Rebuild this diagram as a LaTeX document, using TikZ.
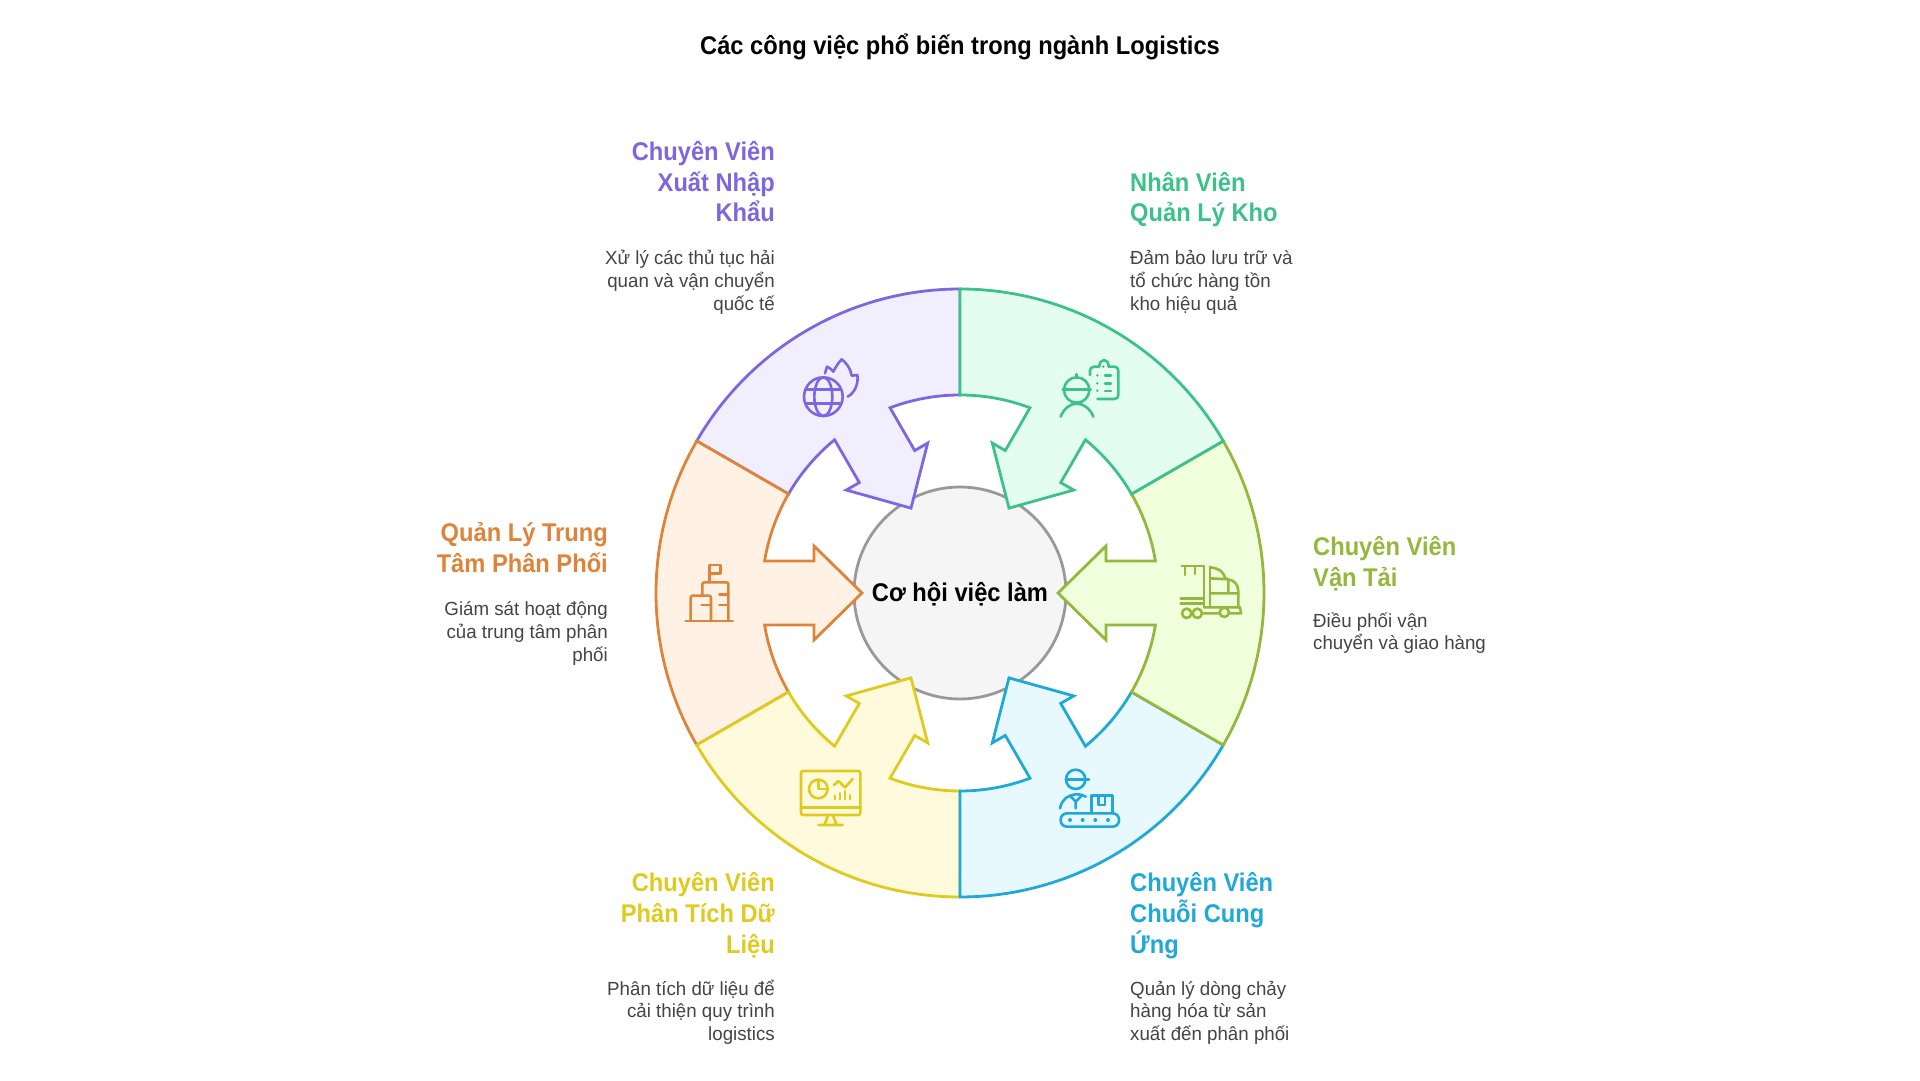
\documentclass[tikz,border=0pt]{standalone}
\usepackage{fontspec}
\setmainfont[FakeStretch=0.985,BoldFeatures={FakeStretch=0.925}]{Liberation Sans}
\definecolor{cPur}{HTML}{7B68E0}\definecolor{fPur}{HTML}{F1EFFE}
\definecolor{cGrn}{HTML}{3CC18A}\definecolor{fGrn}{HTML}{E3FEF1}
\definecolor{cOli}{HTML}{93B83C}\definecolor{fOli}{HTML}{F0FFDC}
\definecolor{cBlu}{HTML}{1FA8D8}\definecolor{fBlu}{HTML}{E7F8FF}
\definecolor{cYel}{HTML}{DFCB1F}\definecolor{fYel}{HTML}{FFFADB}
\definecolor{cOra}{HTML}{DD843A}\definecolor{fOra}{HTML}{FFF2E5}
\definecolor{cTxt}{HTML}{444444}
\newcommand{\segshape}[3]{%
\begin{scope}[shift={(960,487)},rotate=#1]
\draw[segline,draw=#2,fill=#3] (30:304) arc[start angle=30,end angle=-30,radius=304]
  -- (-30:198) arc[start angle=-30,end angle=-9.3,radius=198]
  -- (146,-32) -- (146,-47) -- (98,0) -- (146,47) -- (146,32)
  -- (9.3:198) arc[start angle=9.3,end angle=30,radius=198] -- cycle;
\end{scope}}
\tikzset{
  segline/.style={line width=2.8pt,line join=miter},
  icon/.style={line width=2.6pt,line cap=round,line join=round},
  ttl/.style={font=\fontsize{25.6}{30.6}\selectfont\bfseries,inner sep=0pt},
  dsc/.style={font=\fontsize{19}{22.7}\selectfont,inner sep=0pt,text=cTxt},
}
\begin{document}
\begin{tikzpicture}[x=1pt,y=1pt]
\useasboundingbox[fill=white] (0,0) rectangle (1920,1080);
\node[draw=black!40,fill=black!4,line width=2.8pt,circle,minimum size=212pt,inner sep=0pt] (hub) at (960,487) {};
\segshape{120}{cPur}{fPur}
\segshape{180}{cOra}{fOra}
\segshape{240}{cYel}{fYel}
\segshape{300}{cBlu}{fBlu}
\segshape{0}{cOli}{fOli}
\segshape{60}{cGrn}{fGrn}
\node[font=\fontsize{25.6}{30}\selectfont\bfseries,inner sep=0pt] (hubtext) at (960,486) {Cơ hội việc làm};
\node[font=\fontsize{25.6}{30}\selectfont\bfseries,inner sep=0pt] (title) at (960,1033) {Các công việc phổ biến trong ngành Logistics};
% purple
\node[ttl,text=cPur,anchor=base east,align=right] (t1) at (775,858) {Chuyên Viên\\Xuất Nhập\\Khẩu};
\node[dsc,anchor=base east,align=right] (d1) at (775,769.6) {Xử lý các thủ tục hải\\quan và vận chuyển\\quốc tế};
% green
\node[ttl,text=cGrn,anchor=base west,align=left] (t2) at (1130,858) {Nhân Viên\\Quản Lý Kho};
\node[dsc,anchor=base west,align=left] (d2) at (1130,769.6) {Đảm bảo lưu trữ và\\tổ chức hàng tồn\\kho hiệu quả};
% olive
\node[ttl,text=cOli,anchor=base west,align=left] (t3) at (1313,493.4) {Chuyên Viên\\Vận Tải};
\node[dsc,anchor=base west,align=left] (d3) at (1313,430) {Điều phối vận\\chuyển và giao hàng};
% blue
\node[ttl,text=cBlu,anchor=base west,align=left] (t4) at (1130,127) {Chuyên Viên\\Chuỗi Cung\\Ứng};
\node[dsc,anchor=base west,align=left] (d4) at (1130,39.6) {Quản lý dòng chảy\\hàng hóa từ sản\\xuất đến phân phối};
% yellow
\node[ttl,text=cYel,anchor=base east,align=right] (t5) at (775,127) {Chuyên Viên\\Phân Tích Dữ\\Liệu};
\node[dsc,anchor=base east,align=right] (d5) at (775,39.6) {Phân tích dữ liệu để\\cải thiện quy trình\\logistics};
% orange
\node[ttl,text=cOra,anchor=base east,align=right] (t6) at (608,507.4) {Quản Lý Trung\\Tâm Phân Phối};
\node[dsc,anchor=base east,align=right] (d6) at (608,418.6) {Giám sát hoạt động\\của trung tâm phân\\phối};
% globe icon
\begin{scope}[shift={(780,740)},xscale=1/3,yscale=-1/3,icon,draw=cPur]
\draw (130,170) circle (58);
\draw (130,170) ellipse (27 and 58);
\draw (80,148) -- (180,148) (80,190) -- (180,190);
\draw (135,100) -- (141,80) .. controls (150,82) and (155,90) .. (160,95) .. controls (165,85) and (172,72) .. (185,58) .. controls (198,68) and (212,85) .. (215,107) .. controls (222,106) and (228,106) .. (232,105) .. controls (236,130) and (225,158) .. (203,170);
\end{scope}
% worker clipboard icon
\begin{scope}[shift={(1040,740)},xscale=1/3,yscale=-1/3,icon,draw=cGrn]
\draw (110,150) circle (38);
\draw (68,148) -- (152,148) (110,103) -- (110,113);
\draw (62,230) .. controls (72,205) and (90,191) .. (110,191) .. controls (130,191) and (150,205) .. (160,230);
\draw (150,105) -- (150,92) .. controls (150,85) and (155,80) .. (163,80) -- (178,80) .. controls (178,68) and (184,60) .. (192,60) .. controls (200,60) and (206,68) .. (206,80) -- (223,80) .. controls (231,80) and (235,85) .. (235,92) -- (235,165) .. controls (235,172) and (231,177) .. (223,177) -- (172,177);
\fill[cGrn] (190,80) circle (4) (172,106) circle (4) (172,130) circle (4) (172,152) circle (4);
\draw (195,106) -- (213,106) (195,130) -- (213,130) (195,153) -- (213,153);
\end{scope}
% truck icon
\begin{scope}[shift={(1160,530)},xscale=1/3,yscale=-1/3,icon,draw=cOli]
\draw (65,48) -- (132,48) (75,48) -- (75,75) (105,48) -- (105,72);
\draw (62,145) -- (132,145) (62,160) -- (132,160);
\draw (132,48) -- (132,172);
\draw (150,50) -- (150,172);
\draw (150,52) .. controls (175,55) and (190,62) .. (195,85) -- (205,88) .. controls (225,92) and (235,105) .. (235,125) -- (235,172);
\draw (150,85) -- (205,88) -- (205,130) (150,130) -- (235,130);
\draw (132,172) -- (240,172) -- (243,190) -- (208,190) (178,190) -- (126,190);
\draw (80,190) circle (14) (112,190) circle (14) (193,187) circle (14);
\end{scope}
% conveyor icon
\begin{scope}[shift={(1040,325)},xscale=1/3,yscale=-1/3,icon,draw=cBlu]
\draw (107,73) circle (29);
\draw (78,73) -- (147,73);
\draw (60,160) .. controls (65,135) and (80,122) .. (107,118) .. controls (120,118) and (130,120) .. (137,125);
\draw (90,122) -- (107,140) -- (125,122) (107,140) -- (107,160);
\draw (155,172) -- (155,122) -- (218,122) -- (218,172);
\draw (175,122) -- (175,150) -- (195,150) -- (195,122);
\draw[rounded corners=6.3pt] (62,175) rectangle (237,215);
\fill[cBlu] (90,195) circle (6) (128,195) circle (6) (166,195) circle (6) (204,195) circle (6);
\end{scope}
% monitor icon
\begin{scope}[shift={(785,325)},xscale=1/3,yscale=-1/3,icon,draw=cYel]
\draw[rounded corners=2pt] (48,48) rectangle (226,180);
\draw (48,157) -- (226,157);
\draw (130,180) -- (118,210) (143,180) -- (155,210) (100,210) -- (173,210);
\draw (100,102) circle (28);
\draw (100,74) -- (100,102) -- (128,102);
\draw (147,90) -- (160,78) -- (180,97) -- (203,72);
\draw (150,122) -- (150,133) (165,115) -- (165,133) (180,108) -- (180,133) (195,120) -- (195,133);
\end{scope}
% warehouse icon
\begin{scope}[shift={(670,530)},xscale=1/3,yscale=-1/3,icon,draw=cOra]
\draw (47,213) -- (188,213);
\draw[rounded corners=2pt] (62,213) -- (62,137) -- (123,137) -- (123,213);
\draw[rounded corners=2pt] (97,137) -- (97,97) -- (175,97) -- (175,213);
\draw (95,165) -- (120,165) (148,133) -- (175,133) (148,165) -- (175,165);
\draw (118,97) -- (118,45) -- (152,45) -- (152,70) -- (118,70);
\end{scope}
\end{tikzpicture}
\end{document}
